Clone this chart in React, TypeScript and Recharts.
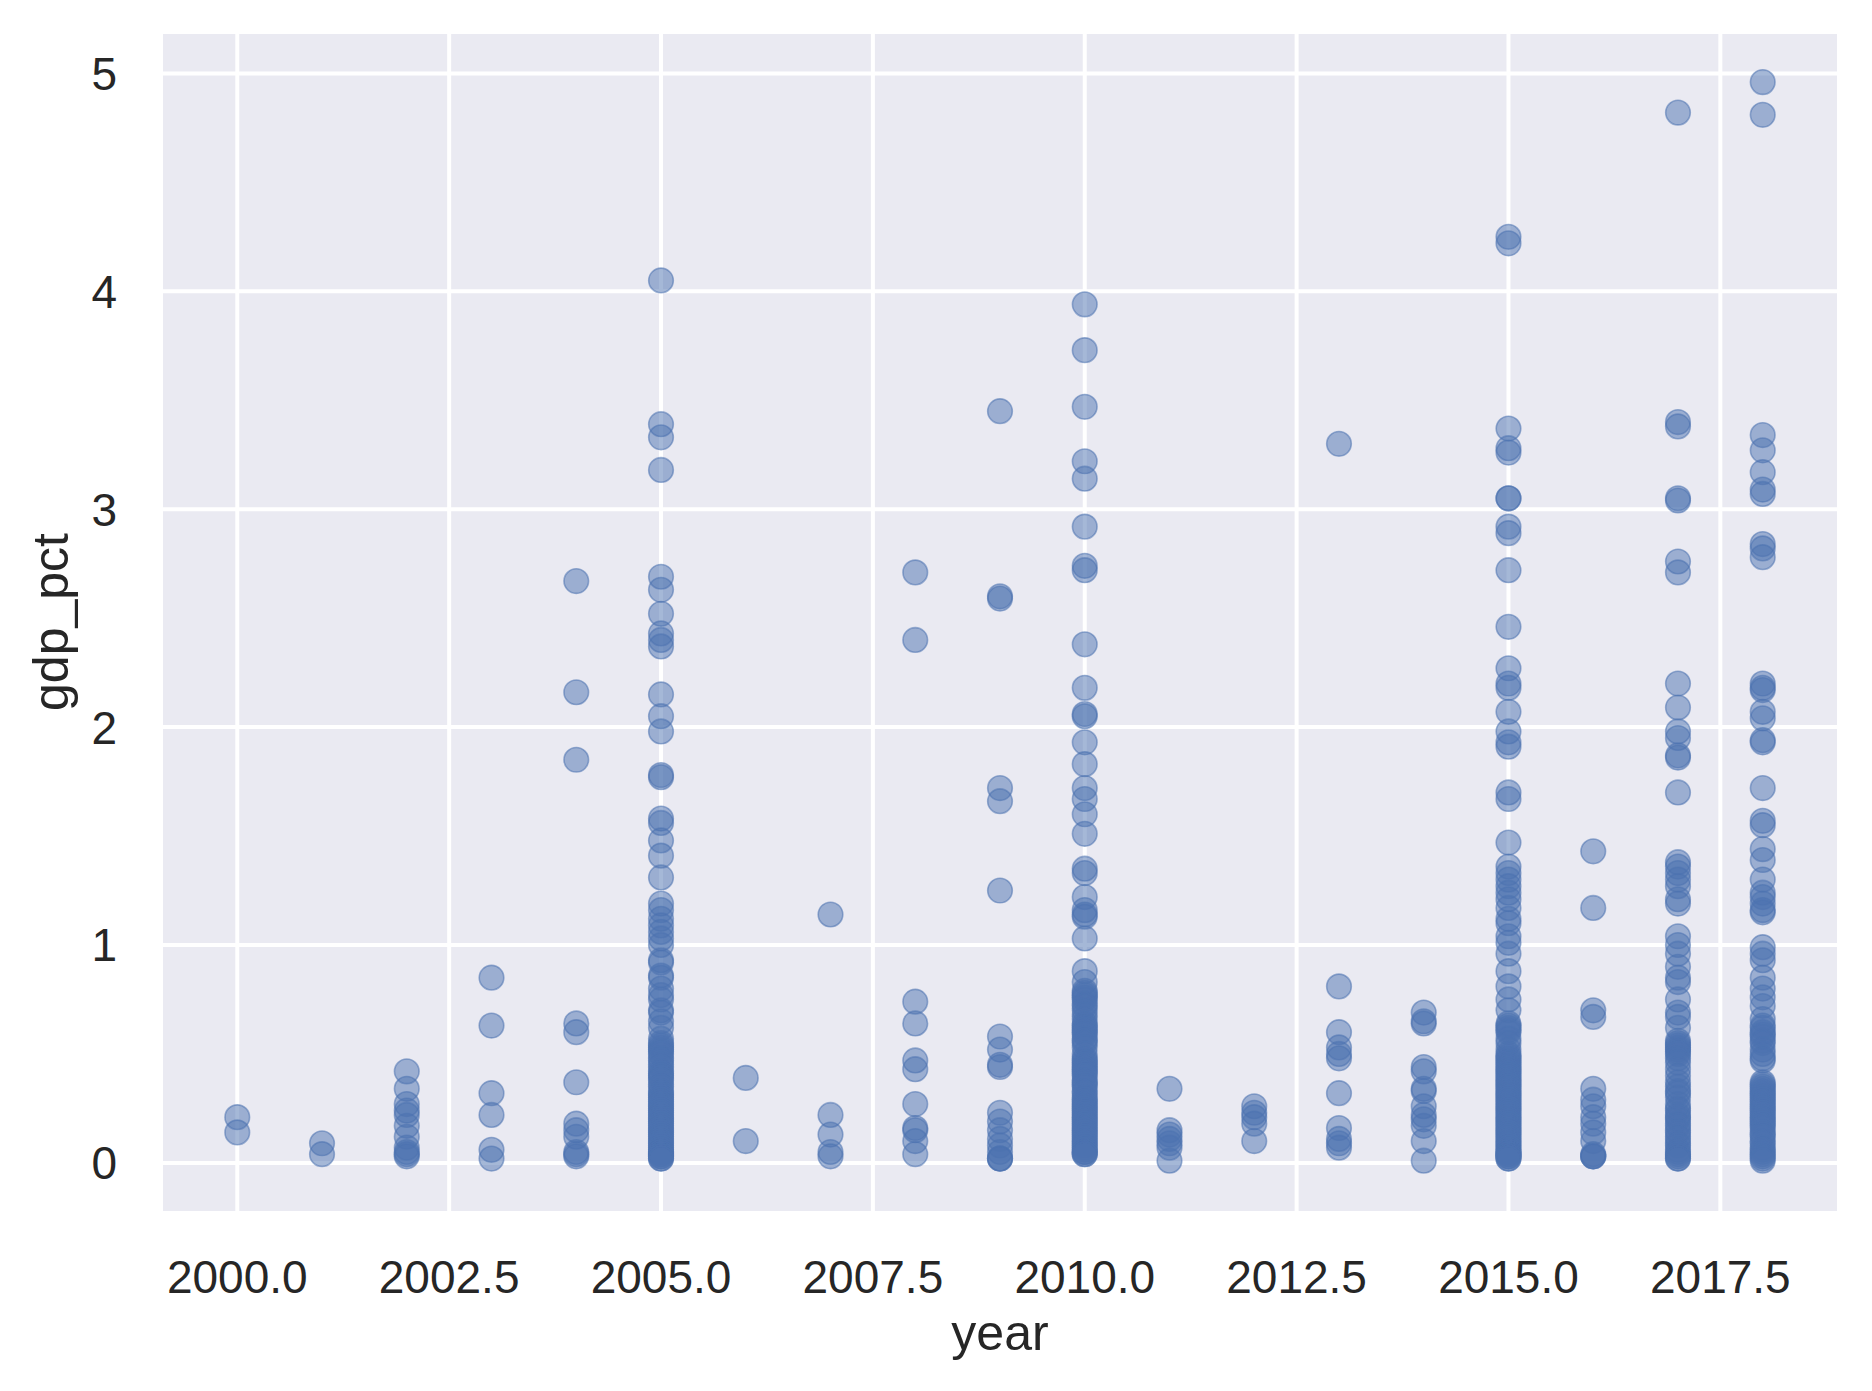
import React from 'react';
import { ScatterChart, Scatter, XAxis, YAxis, CartesianGrid, Label } from 'recharts';

const years = [2000, 2001, 2002, 2003, 2004, 2005, 2006, 2007, 2008, 2009, 2010, 2011, 2012, 2013, 2014, 2015, 2016, 2017, 2018];

const gdp2000 = [0.21, 0.14];
const gdp2001 = [0.09, 0.04];
const gdp2002 = [0.42, 0.34, 0.27, 0.24, 0.22, 0.17, 0.12, 0.07, 0.05, 0.04, 0.03];
const gdp2003 = [0.85, 0.63, 0.32, 0.22, 0.06, 0.02];
const gdp2004 = [2.67, 2.16, 1.85, 0.64, 0.6, 0.37, 0.18, 0.15, 0.12, 0.05, 0.04, 0.03];
const gdp2005 = [
  4.05, 3.39, 3.33, 3.18, 2.69, 2.63, 2.52, 2.43, 2.4, 2.37, 2.15, 2.05, 1.98, 1.78, 1.77, 1.58, 1.56, 1.48, 1.41, 1.31,
  1.19, 1.16, 1.12, 1.09, 1.06, 1.03, 1.0, 0.93, 0.92, 0.86, 0.85, 0.8, 0.77, 0.75, 0.7, 0.69, 0.65, 0.62, 0.57, 0.55,
  0.54, 0.53, 0.52, 0.51, 0.5, 0.48, 0.47, 0.45, 0.44, 0.42, 0.41, 0.4, 0.39, 0.38, 0.36, 0.35, 0.33, 0.32, 0.31, 0.3,
  0.29, 0.28, 0.27, 0.26, 0.25, 0.24, 0.23, 0.22, 0.21, 0.2, 0.19, 0.18, 0.17, 0.16, 0.15, 0.14, 0.13, 0.12, 0.11, 0.1,
  0.09, 0.08, 0.07, 0.06, 0.05, 0.05, 0.04, 0.04, 0.03, 0.03, 0.02, 0.02,
];
const gdp2006 = [0.39, 0.1];
const gdp2007 = [1.14, 0.22, 0.13, 0.05, 0.03];
const gdp2008 = [2.71, 2.4, 0.74, 0.64, 0.47, 0.43, 0.27, 0.16, 0.15, 0.1, 0.04];
const gdp2009 = [3.45, 2.6, 2.59, 1.72, 1.66, 1.25, 0.58, 0.52, 0.45, 0.44, 0.23, 0.19, 0.15, 0.11, 0.08, 0.05, 0.02, 0.02, 0.02];
const gdp2010 = [
  3.94, 3.73, 3.47, 3.22, 3.14, 2.92, 2.74, 2.72, 2.38, 2.18, 2.06, 2.05, 1.93, 1.83, 1.72, 1.67, 1.6, 1.51, 1.35, 1.33,
  1.22, 1.16, 1.14, 1.13, 1.03, 0.88, 0.83, 0.79, 0.78, 0.77, 0.76, 0.75, 0.73, 0.72, 0.7, 0.68, 0.66, 0.64, 0.63, 0.62,
  0.61, 0.6, 0.59, 0.57, 0.56, 0.55, 0.53, 0.5, 0.48, 0.47, 0.46, 0.45, 0.44, 0.43, 0.42, 0.41, 0.4, 0.38, 0.37, 0.36,
  0.35, 0.33, 0.32, 0.3, 0.29, 0.28, 0.27, 0.26, 0.25, 0.24, 0.23, 0.22, 0.21, 0.2, 0.19, 0.18, 0.17, 0.16, 0.15, 0.14,
  0.13, 0.12, 0.11, 0.1, 0.09, 0.08, 0.07, 0.06, 0.05, 0.05, 0.04, 0.04,
];
const gdp2011 = [0.34, 0.15, 0.13, 0.11, 0.09, 0.07, 0.01];
const gdp2012 = [0.26, 0.23, 0.21, 0.18, 0.1];
const gdp2013 = [3.3, 0.81, 0.6, 0.53, 0.5, 0.48, 0.32, 0.16, 0.11, 0.09, 0.07];
const gdp2014 = [0.69, 0.65, 0.64, 0.44, 0.42, 0.34, 0.33, 0.26, 0.22, 0.2, 0.17, 0.1, 0.01];
const gdp2015 = [
  4.25, 4.22, 3.37, 3.28, 3.26, 3.05, 3.05, 2.92, 2.89, 2.72, 2.46, 2.27, 2.2, 2.18, 2.07, 1.98, 1.93, 1.91, 1.7, 1.67,
  1.47, 1.36, 1.33, 1.3, 1.27, 1.24, 1.21, 1.17, 1.12, 1.1, 1.04, 1.01, 0.96, 0.88, 0.81, 0.75, 0.7, 0.64, 0.63, 0.62,
  0.61, 0.6, 0.57, 0.55, 0.52, 0.5, 0.49, 0.48, 0.47, 0.46, 0.45, 0.44, 0.43, 0.42, 0.41, 0.4, 0.39, 0.38, 0.37, 0.36,
  0.35, 0.34, 0.33, 0.32, 0.31, 0.3, 0.29, 0.28, 0.27, 0.26, 0.25, 0.24, 0.23, 0.22, 0.21, 0.2, 0.19, 0.18, 0.17, 0.16,
  0.15, 0.14, 0.13, 0.12, 0.11, 0.1, 0.09, 0.08, 0.07, 0.06, 0.05, 0.05, 0.04, 0.04, 0.03, 0.03, 0.02, 0.02,
];
const gdp2016 = [1.43, 1.17, 0.7, 0.67, 0.34, 0.29, 0.26, 0.21, 0.18, 0.14, 0.1, 0.04, 0.03, 0.03, 0.03];
const gdp2017 = [
  4.82, 3.4, 3.38, 3.05, 3.04, 2.76, 2.71, 2.2, 2.09, 1.98, 1.95, 1.87, 1.86, 1.7, 1.38, 1.36, 1.33, 1.3, 1.27, 1.21,
  1.19, 1.04, 1.0, 0.96, 0.9, 0.85, 0.83, 0.75, 0.69, 0.67, 0.62, 0.56, 0.55, 0.54, 0.53, 0.52, 0.51, 0.5, 0.48, 0.46,
  0.43, 0.4, 0.37, 0.35, 0.33, 0.32, 0.3, 0.27, 0.25, 0.24, 0.22, 0.21, 0.2, 0.18, 0.17, 0.15, 0.14, 0.12, 0.11, 0.09,
  0.08, 0.06, 0.05, 0.04, 0.03, 0.02, 0.02,
];
const gdp2018 = [
  4.96, 4.81, 3.34, 3.27, 3.17, 3.09, 3.07, 2.84, 2.82, 2.78, 2.2, 2.18, 2.17, 2.07, 2.04, 1.94, 1.93, 1.72, 1.57, 1.55,
  1.44, 1.39, 1.3, 1.24, 1.22, 1.19, 1.16, 1.15, 0.99, 0.96, 0.93, 0.85, 0.8, 0.76, 0.72, 0.66, 0.63, 0.62, 0.6, 0.59,
  0.58, 0.56, 0.55, 0.52, 0.5, 0.48, 0.47, 0.37, 0.36, 0.35, 0.34, 0.33, 0.32, 0.31, 0.3, 0.29, 0.28, 0.27, 0.26, 0.25,
  0.24, 0.23, 0.22, 0.21, 0.2, 0.19, 0.18, 0.17, 0.16, 0.14, 0.13, 0.12, 0.1, 0.09, 0.07, 0.06, 0.05, 0.04, 0.03, 0.02,
  0.01,
];

const gdpByYear = [
  gdp2000, gdp2001, gdp2002, gdp2003, gdp2004, gdp2005, gdp2006, gdp2007, gdp2008, gdp2009,
  gdp2010, gdp2011, gdp2012, gdp2013, gdp2014, gdp2015, gdp2016, gdp2017, gdp2018,
];

const xTicks = [2000, 2002.5, 2005, 2007.5, 2010, 2012.5, 2015, 2017.5];
const yTicks = [0, 1, 2, 3, 4, 5];

const points = years.flatMap((year, i) => gdpByYear[i].map((gdp) => ({ year, gdp })));

const FONT = '"Liberation Sans", Arial, sans-serif';
const TEXT = '#262626';
const BLUE = '#4c72b0';

const XTick = ({ x, y, payload }: any) => (
  <text x={x} y={y + 80} textAnchor="middle" fontSize={46} fontFamily={FONT} fill={TEXT}>
    {Number(payload.value).toFixed(1)}
  </text>
);

const YTick = ({ y, payload }: any) => (
  <text x={117} y={y + 16.5} textAnchor="end" fontSize={46} fontFamily={FONT} fill={TEXT}>
    {payload.value}
  </text>
);

const Dot = (props: any) => (
  <circle
    cx={props.cx}
    cy={props.cy}
    r={12.3}
    fill={BLUE}
    fillOpacity={0.5}
    stroke={BLUE}
    strokeOpacity={0.55}
    strokeWidth={1.6}
  />
);

export default function App() {
  return (
    <div style={{ position: 'absolute', left: 0, top: 0, width: 1872, height: 1391, background: '#fff' }}>
      <ScatterChart width={1872} height={1391} margin={{ top: 32, right: 33, left: 0, bottom: 0 }}>
        <CartesianGrid fill="#eaeaf2" stroke="#ffffff" strokeWidth={4} />
        <XAxis
          dataKey="year"
          type="number"
          domain={[1999.1, 2018.9]}
          ticks={xTicks}
          allowDataOverflow
          height={178}
          axisLine={false}
          tickLine={false}
          tickSize={0}
          tickMargin={0}
          tick={<XTick />}
          interval={0}
        >
          <Label
            content={() => (
              <text x={1000} y={1350} textAnchor="middle" fontSize={50} fontFamily={FONT} fill={TEXT}>
                year
              </text>
            )}
          />
        </XAxis>
        <YAxis
          dataKey="gdp"
          type="number"
          domain={[-0.23, 5.19]}
          ticks={yTicks}
          allowDataOverflow
          width={161}
          axisLine={false}
          tickLine={false}
          tickSize={0}
          tickMargin={0}
          tick={<YTick />}
          interval={0}
        >
          <Label
            content={() => (
              <text
                x={68}
                y={622}
                textAnchor="middle"
                fontSize={50}
                fontFamily={FONT}
                fill={TEXT}
                transform="rotate(-90, 68, 622)"
              >
                gdp_pct
              </text>
            )}
          />
        </YAxis>
        <Scatter data={points} shape={<Dot />} isAnimationActive={false} />
      </ScatterChart>
    </div>
  );
}
